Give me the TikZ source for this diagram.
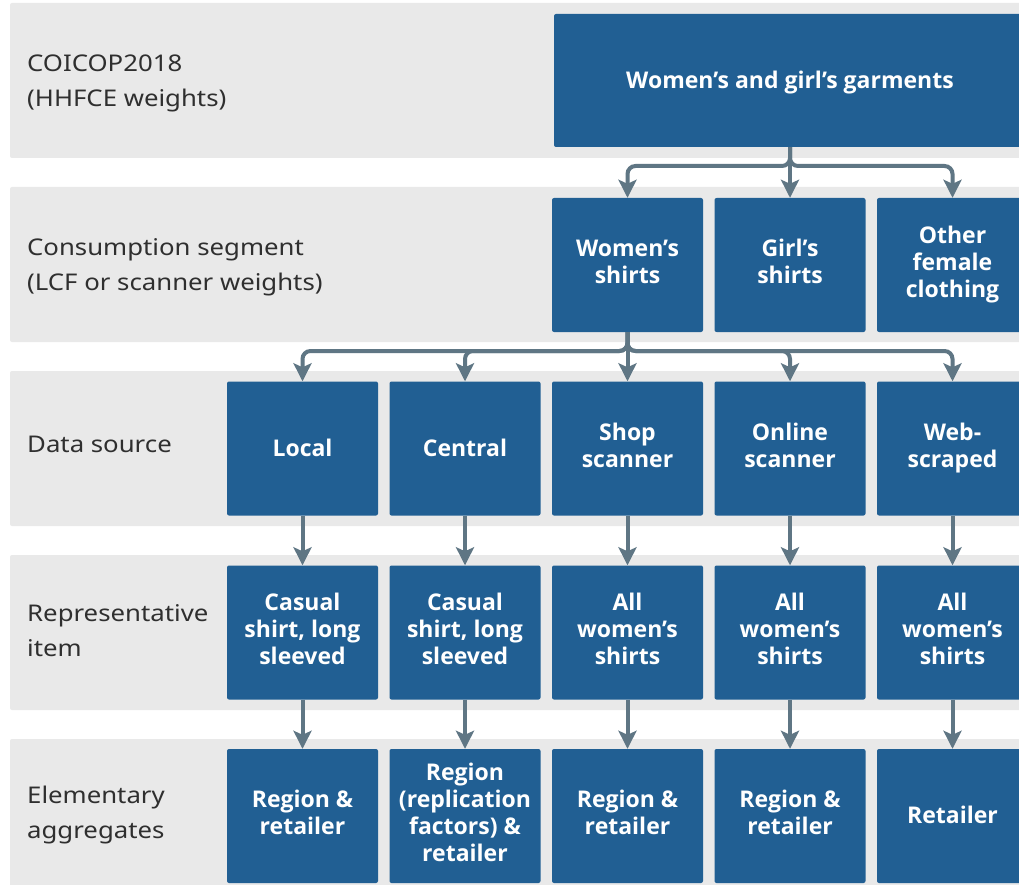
\documentclass[tikz,border=0pt]{standalone}
\usepackage{fontspec}
\setmainfont{Noto Sans}
\newfontfamily\boxfont{Open Sans}
\newfontfamily\labfont{Noto Sans}[FakeStretch=1.12]
\newcommand\topstrut{\vrule width 0pt height 23pt depth 0pt\relax}
\newcommand\botstrut{\vrule width 0pt height 0pt depth 6.6pt\relax}
\newcommand\lowtopstrut{\vrule width 0pt height 18pt depth 0pt\relax}
\newcommand\lowbotstrut{\vrule width 0pt height 0pt depth 7.6pt\relax}
\usetikzlibrary{arrows.meta}
\definecolor{boxblue}{HTML}{215F93}
\definecolor{bandgrey}{HTML}{E9E9E9}
\definecolor{arrowgrey}{HTML}{5F7684}
\definecolor{labelgrey}{HTML}{2F2F2F}
\begin{document}
\begin{tikzpicture}[x=1pt,y=-1pt,
  band/.style={fill=bandgrey, rounded corners=2pt},
  bluebox/.style={fill=boxblue, rounded corners=2pt, text=white,
    font=\boxfont\bfseries\fontsize{23}{27}\selectfont, align=center,
    minimum width=151pt, minimum height=134pt, inner sep=0pt,
    execute at begin node=\topstrut, execute at end node=\botstrut},
  lowbox/.style={bluebox, execute at begin node=\lowtopstrut, execute at end node=\lowbotstrut},
  lab/.style={anchor=west, text=labelgrey, font=\labfont\fontsize{23}{35}\selectfont,
    align=left, inner sep=0pt},
  conn/.style={draw=arrowgrey, line width=4pt, rounded corners=8pt,
    -{Stealth[length=18pt,width=18pt,inset=4pt]}}
]
\useasboundingbox (0,0) rectangle (1019,885);
\fill[white] (0,0) rectangle (1019,885);
% bands
\fill[band] (10,3) rectangle (1035,158);
\fill[band] (10,187) rectangle (1035,342);
\fill[band] (10,371) rectangle (1035,526);
\fill[band] (10,555) rectangle (1035,710);
\fill[band] (10,739) rectangle (1035,894);
% labels
\node[lab] (l1) at (27,83) {COICOP2018\\(HHFCE weights)};
\node[lab] (l2) at (27,267) {Consumption segment\\(LCF or scanner weights)};
\node[lab] (l3) at (27,444) {Data source};
\node[lab] (l4) at (27,631) {Representative\\item};
\node[lab] (l5) at (27,815) {Elementary\\aggregates};
% top
\node[bluebox, minimum width=472pt, minimum height=133pt] (top) at (790,80.5) {Women’s and girl’s garments};
% row 2
\node[bluebox] (ws) at (627.5,265) {Women’s\\shirts};
\node[bluebox] (gs) at (790,265) {Girl’s\\shirts};
\node[bluebox] (of) at (952.5,265) {Other\\female\\clothing};
% row 3
\node[bluebox] (d1) at (302.5,448.5) {Local};
\node[bluebox] (d2) at (465,448.5) {Central};
\node[bluebox] (d3) at (627.5,448.5) {Shop\\scanner};
\node[bluebox] (d4) at (790,448.5) {Online\\scanner};
\node[bluebox] (d5) at (952.5,448.5) {Web-\\scraped};
% row 4
\node[bluebox] (r1) at (302.5,632.5) {Casual\\shirt, long\\sleeved};
\node[bluebox] (r2) at (465,632.5) {Casual\\shirt, long\\sleeved};
\node[bluebox] (r3) at (627.5,632.5) {All\\women’s\\shirts};
\node[bluebox] (r4) at (790,632.5) {All\\women’s\\shirts};
\node[bluebox] (r5) at (952.5,632.5) {All\\women’s\\shirts};
% row 5
\node[lowbox] (e1) at (302.5,816) {Region \&\\retailer};
\node[lowbox] (e2) at (465,816) {Region\\(replication\\factors) \&\\retailer};
\node[lowbox] (e3) at (627.5,816) {Region \&\\retailer};
\node[lowbox] (e4) at (790,816) {Region \&\\retailer};
\node[lowbox] (e5) at (952.5,816) {Retailer};
% connectors
\coordinate (j1) at (790,166);
\coordinate (j2) at (627.5,351);
\draw[conn] (top.south) -- (j1) -| (ws.north);
\draw[conn] (top.south) -- (gs.north);
\draw[conn] (top.south) -- (j1) -| (of.north);
\draw[conn] (ws.south) -- (j2) -| (d1.north);
\draw[conn] (ws.south) -- (j2) -| (d2.north);
\draw[conn] (ws.south) -- (d3.north);
\draw[conn] (ws.south) -- (j2) -| (d4.north);
\draw[conn] (ws.south) -- (j2) -| (d5.north);
\foreach \c in {1,...,5}{
  \draw[conn] (d\c.south) -- (r\c.north);
  \draw[conn] (r\c.south) -- (e\c.north);
}
\end{tikzpicture}
\end{document}
